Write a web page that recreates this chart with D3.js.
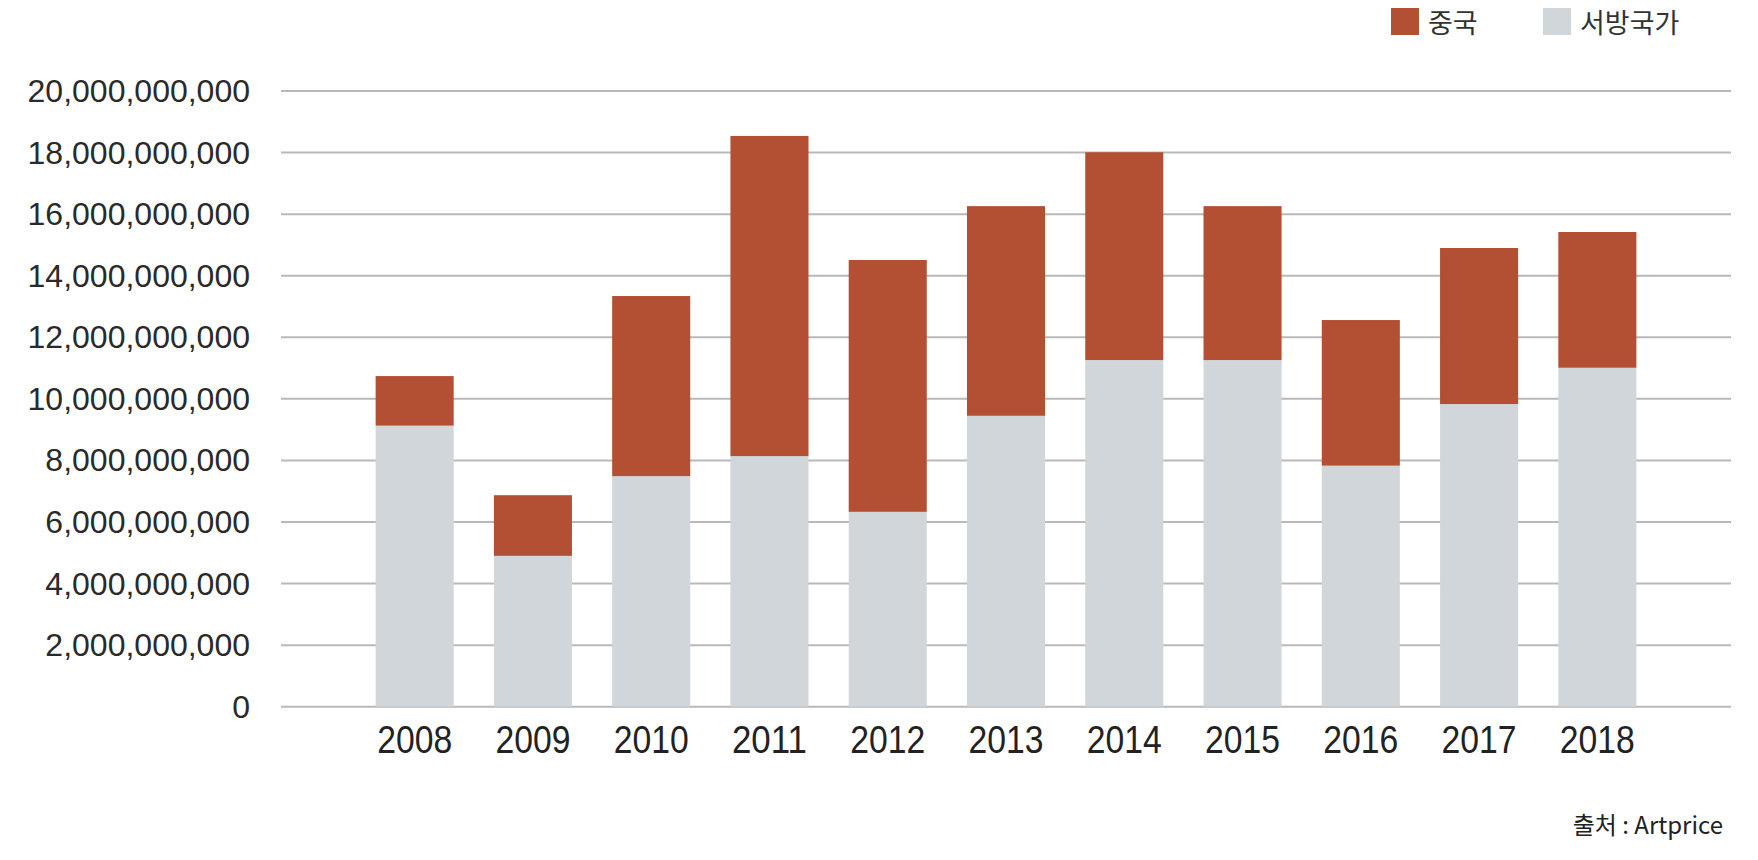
<!DOCTYPE html>
<html><head><meta charset="utf-8">
<script src="https://cdn.jsdelivr.net/npm/d3@7"></script>
<style>
html,body{margin:0;padding:0;background:#fff;}
svg{display:block;}
</style></head>
<body>
<svg id="chart" width="1758" height="860"></svg>
<script>
const years = ["2008","2009","2010","2011","2012","2013","2014","2015","2016","2017","2018"];
const western = [9.13e9, 4.90e9, 7.49e9, 8.14e9, 6.33e9, 9.45e9, 11.26e9, 11.26e9, 7.83e9, 9.83e9, 11.01e9];
const china = [1.61e9, 1.97e9, 5.85e9, 10.40e9, 8.18e9, 6.81e9, 6.75e9, 5.00e9, 4.73e9, 5.07e9, 4.41e9];
const yTicks = [0, 2e9, 4e9, 6e9, 8e9, 10e9, 12e9, 14e9, 16e9, 18e9, 20e9];
const seriesNames = ["중국", "서방국가"];
const seriesColors = ["#B34F33", "#D0D6DA"];
const sourceText = "출처 : Artprice";

(function () {
const svg = d3.select("#chart");
const plotLeft = 281, plotRight = 1731, plotTop = 91, plotBottom = 706.7;

const x = d3.scaleBand().domain(years).range([plotLeft, plotRight]).paddingInner(0.34).paddingOuter(0.8);
const y = d3.scaleLinear().domain([0, 20e9]).range([plotBottom, plotTop]);

const rows = years.map((yr, i) => ({year: yr, west: western[i], china: china[i]}));
const stack = d3.stack().keys(["west", "china"])(rows);

// gridlines
svg.append("g")
  .selectAll("line").data(yTicks).join("line")
  .attr("x1", plotLeft).attr("x2", plotRight)
  .attr("y1", d => y(d)).attr("y2", d => y(d))
  .attr("stroke", "#b9b9b9").attr("stroke-width", 2);

// y axis labels
const yAxis = d3.axisLeft(y).tickValues(yTicks).tickSize(0).tickPadding(0)
  .tickFormat(d => d3.format(",")(d));
const gy = svg.append("g").attr("transform", "translate(250,0)").call(yAxis);
gy.select(".domain").remove();
gy.selectAll("text")
  .attr("font-family", "'Liberation Sans', Arial, sans-serif")
  .attr("font-size", 32).attr("fill", "#2a2a2a").attr("dy", "0.33em");

// bars
const colorByKey = {west: seriesColors[1], china: seriesColors[0]};
svg.append("g").selectAll("g").data(stack).join("g")
  .attr("fill", d => colorByKey[d.key])
  .selectAll("rect").data(d => d).join("rect")
  .attr("x", d => x(d.data.year))
  .attr("width", x.bandwidth())
  .attr("y", d => y(d[1]))
  .attr("height", d => y(d[0]) - y(d[1]));

// x axis labels
const xAxis = d3.axisBottom(x).tickSize(0).tickPadding(0);
const gx = svg.append("g").attr("transform", `translate(0,${plotBottom})`).call(xAxis);
gx.select(".domain").remove();
gx.selectAll("text")
  .attr("font-family", "'Liberation Sans', Arial, sans-serif")
  .attr("font-size", 39).attr("fill", "#222")
  .attr("y", 46).attr("dy", 0)
  .attr("textLength", 75).attr("lengthAdjust", "spacingAndGlyphs");

// legend
const legendItems = [
  {name: seriesNames[0], color: seriesColors[0], x: 1391},
  {name: seriesNames[1], color: seriesColors[1], x: 1543}
];
const lg = svg.append("g");
legendItems.forEach(it => {
  lg.append("rect").attr("x", it.x).attr("y", 8).attr("width", 28).attr("height", 27).attr("fill", it.color);
  lg.append("text").attr("x", it.x + 37).attr("y", 33)
    .attr("font-family", "'Noto Sans CJK KR', sans-serif")
    .attr("font-size", 27).attr("fill", "#333").text(it.name);
});

// source
svg.append("text").attr("x", 1723).attr("y", 834).attr("text-anchor", "end")
  .attr("font-family", "'Noto Sans CJK KR', sans-serif")
  .attr("font-size", 24).attr("fill", "#222")
  .text(sourceText);
})();
</script>
</body></html>
